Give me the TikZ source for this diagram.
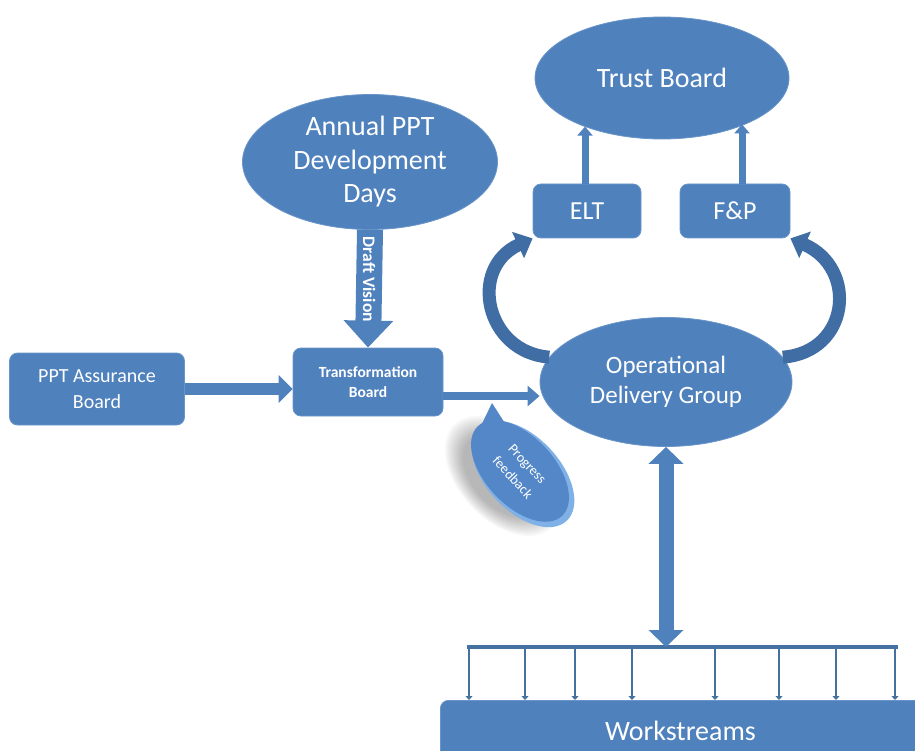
\documentclass[tikz,border=0pt]{standalone}
\usepackage{fontspec}
\setmainfont{Carlito}
\usetikzlibrary{arrows.meta,shapes.geometric}
\definecolor{ofblue}{HTML}{4F81BD}
\definecolor{ofedge}{HTML}{6A95C8}
\definecolor{arcblue}{HTML}{3F6DA4}
\definecolor{tickblue}{HTML}{44719F}
\definecolor{pfblue}{HTML}{5387C7}
\definecolor{pfglow}{HTML}{7FB0E6}
\begin{document}
\begin{tikzpicture}[x=1pt,y=-1pt,
  oval/.style={ellipse, fill=ofblue, draw=ofedge, line width=0.8pt, inner sep=0pt, align=center, text=white},
  rbox/.style={rectangle, rounded corners=8pt, fill=ofblue, draw=ofedge, line width=0.8pt, inner sep=0pt, align=center, text=white},
  fbig/.style={font=\fontsize{28}{33.5}\selectfont},
  fmid/.style={font=\fontsize{25}{30}\selectfont},
  fbox/.style={font=\fontsize{20}{26}\selectfont},
  blk/.style={draw=ofblue, line width=#1},
  curv/.style={draw=arcblue, line width=13pt, -{Triangle[width=28pt,length=16pt]}},
  tick/.style={draw=tickblue, line width=2.6pt, -{Triangle[width=7pt,length=4pt]}},
  pfshape/.style={ellipse, minimum width=128pt, minimum height=74pt, rotate=-47, inner sep=0pt}
]
\useasboundingbox (0,0) rectangle (915,751);

% nodes
\node[oval, fbig, minimum width=254pt, minimum height=122pt] (trust) at (662,78) {Trust Board};
\node[oval, fbig, minimum width=255pt, minimum height=135pt] (annual) at (370,162) {Annual PPT\\Development\\Days};
\node[rbox, font=\fontsize{26}{30}\selectfont, minimum width=108pt, minimum height=54pt] (elt) at (587,211) {ELT};
\node[rbox, font=\fontsize{26}{30}\selectfont, minimum width=110pt, minimum height=54pt] (fp) at (735,211) {F\&P};
\node[oval, fmid, minimum width=252pt, minimum height=129pt] (odg) at (666,382) {Operational\\Delivery Group};
\node[rbox, fbox, minimum width=175pt, minimum height=72pt] (pab) at (97,389) {PPT Assurance\\Board};
\node[rbox, font=\fontsize{15.5}{20}\selectfont\bfseries, minimum width=150pt, minimum height=68pt] (tb) at (368,382) {Transformation\\Board};
\node[rbox, fbig, minimum width=490pt, minimum height=62pt, anchor=north west, text depth=0pt] (ws) at (440,700) {\raisebox{2pt}{Workstreams}\hspace*{10pt}};

% up arrows to Trust Board
\draw[blk=7pt, -{Triangle[width=15pt,length=9pt]}] ([xshift=-2pt]elt.north) -- ([xshift=-2pt]elt.north |- trust.212);
\draw[blk=7pt, -{Triangle[width=15pt,length=9pt]}] ([xshift=7pt]fp.north) -- ([xshift=7pt]fp.north |- trust.331);

% curved arrows from ODG
\draw[curv] (odg.168) .. controls (485,352) and (468,268) .. (elt.south west);
\draw[curv] (odg.12) .. controls (850,352) and (858,268) .. (fp.south east);

% Draft vision block arrow
\draw[blk=26pt, -{Triangle[width=48pt,length=27pt]}] (annual.south) -- (tb.north)
  node[pos=0.42, rotate=-90, text=white, font=\fontsize{17.5}{18}\selectfont\bfseries] {Draft Vision};

% PPT Assurance -> Transformation
\draw[blk=12pt, -{Triangle[width=27pt,length=14pt]}] (pab.east) -- (pab.east -| tb.west);

% Transformation -> ODG
\draw[blk=8pt, -{Triangle[width=20pt,length=12pt]}] ([yshift=-14pt]tb.east) -- ([yshift=-14pt]odg.west);

% Progress feedback callout with soft shadow
\foreach \s in {98,102,...,142}{
  \node[pfshape, fill=black, opacity=0.028, minimum width=\s pt, minimum height=0.62*\s pt] at (503,476) {};
}
\node[pfshape, fill=pfglow] at (523,474) {};
\fill[pfblue] (492,403) -- (476,436) -- (508,428) -- cycle;
\node[pfshape, fill=pfblue, minimum width=123pt, minimum height=69pt, align=center, text=white, font=\fontsize{14}{20}\selectfont] (pfb) at (520,471) {Progress\\feedback};

% bracket to workstreams
\coordinate (bl) at (467,647);
\coordinate (br) at (898,647);
\draw[tickblue, line width=4pt] (bl) -- (br);
\foreach \x in {469,525,575,632,715,779,836,895}{
  \draw[tick] (\x,647) -- (\x,647 |- ws.north);
}

% double arrow ODG <-> workstreams
\draw[blk=15pt, {Triangle[width=34pt,length=17pt]}-{Triangle[width=34pt,length=17pt]}] (odg.south) -- (odg.south |- bl);
\end{tikzpicture}
\end{document}
